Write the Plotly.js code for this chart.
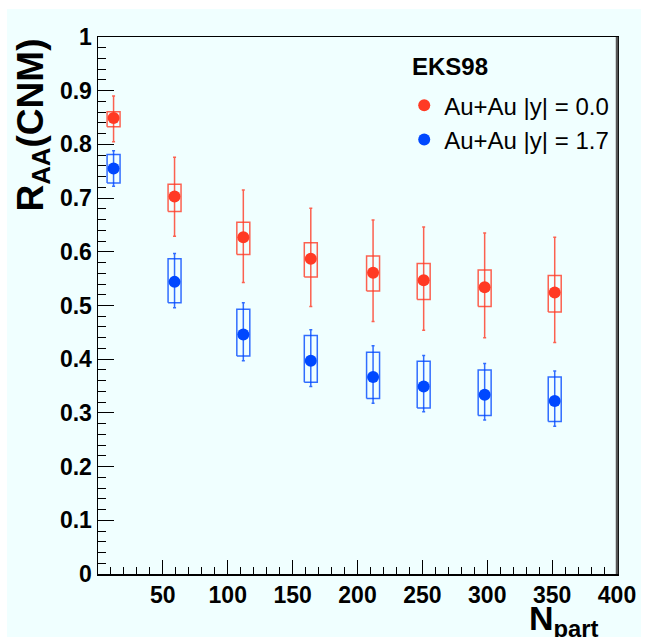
<!DOCTYPE html>
<html>
<head>
<meta charset="utf-8">
<script src="https://cdn.plot.ly/plotly-3.0.1.min.js"></script>
<style>
  html, body { margin: 0; padding: 0; background: #ffffff; }
  #chart { position: absolute; left: 7px; top: 9px; width: 634px; height: 628px; }
</style>
</head>
<body>
<div id="chart"></div>
<script>
// ---- data ----
var npart = [12, 59, 112, 164, 212, 251, 298, 352];

var legendTitle = "EKS98";
var seriesNames = ["Au+Au |y| = 0.0", "Au+Au |y| = 1.7"];

// |y| = 0.0
var raaMid      = [0.849, 0.703, 0.627, 0.587, 0.561, 0.547, 0.534, 0.524];
var raaMidErrUp = [0.041, 0.073, 0.088, 0.094, 0.098, 0.099, 0.101, 0.103];
var raaMidErrDn = [0.044, 0.074, 0.084, 0.089, 0.091, 0.093, 0.094, 0.093];
var raaMidSysUp = [0.012, 0.023, 0.028, 0.030, 0.031, 0.031, 0.032, 0.032];
var raaMidSysDn = [0.016, 0.028, 0.032, 0.034, 0.034, 0.036, 0.036, 0.036];

// |y| = 1.7
var raaFwd      = [0.755, 0.544, 0.446, 0.397, 0.367, 0.349, 0.334, 0.322];
var raaFwdErrUp = [0.033, 0.053, 0.059, 0.058, 0.058, 0.058, 0.058, 0.056];
var raaFwdErrDn = [0.033, 0.048, 0.049, 0.048, 0.049, 0.047, 0.047, 0.047];
var raaFwdSysUp = [0.026, 0.043, 0.047, 0.047, 0.046, 0.047, 0.046, 0.045];
var raaFwdSysDn = [0.027, 0.039, 0.040, 0.040, 0.040, 0.040, 0.039, 0.038];

var boxHalfWidth = 5;
var xTickVals = [0, 50, 100, 150, 200, 250, 300, 350, 400];
var xTickText = ["", "50", "100", "150", "200", "250", "300", "350", "400"];

// ---- styling ----
var red = "rgb(255,58,36)", redLine = "rgba(255,58,36,0.8)";
var blue = "rgb(0,72,255)", blueLine = "rgba(0,72,255,0.8)";
var FONT = "Liberation Sans, Arial, Helvetica, sans-serif";

function boxTrace(x, y, up, dn, color) {
  var bx = [], by = [];
  for (var i = 0; i < x.length; i++) {
    var lo = y[i] - dn[i], hi = y[i] + up[i];
    bx.push(x[i] - boxHalfWidth, x[i] + boxHalfWidth, x[i] + boxHalfWidth, x[i] - boxHalfWidth, x[i] - boxHalfWidth, null);
    by.push(lo, lo, hi, hi, lo, null);
  }
  return { x: bx, y: by, type: "scatter", mode: "lines", line: { color: color, width: 1.5 },
           showlegend: false, hoverinfo: "skip" };
}
function errTrace(x, y, up, dn, color) {
  return { x: x, y: y, type: "scatter", mode: "markers", marker: { size: 1, opacity: 0 },
           error_y: { type: "data", symmetric: false, array: up, arrayminus: dn,
                      color: color, thickness: 1.5, width: 1.5 },
           showlegend: false, hoverinfo: "skip" };
}
function ptTrace(x, y, color, name) {
  return { x: x, y: y, type: "scatter", mode: "markers", name: name,
           marker: { color: color, size: 12, symbol: "circle" } };
}

var data = [
  boxTrace(npart, raaMid, raaMidSysUp, raaMidSysDn, redLine),
  boxTrace(npart, raaFwd, raaFwdSysUp, raaFwdSysDn, blueLine),
  errTrace(npart, raaMid, raaMidErrUp, raaMidErrDn, redLine),
  errTrace(npart, raaFwd, raaFwdErrUp, raaFwdErrDn, blueLine),
  ptTrace(npart, raaMid, red, seriesNames[0]),
  ptTrace(npart, raaFwd, blue, seriesNames[1])
];

var layout = {
  width: 634, height: 628,
  margin: { l: 91, r: 24, t: 28, b: 63, pad: 0 },
  paper_bgcolor: "#f0ffff",
  plot_bgcolor: "#f0ffff",
  font: { family: FONT, color: "#000" },
  showlegend: true,
  legend: {
    x: 0.59, y: 0.914, xanchor: "left", yanchor: "top",
    bgcolor: "rgba(0,0,0,0)", borderwidth: 0,
    font: { family: FONT, size: 24, color: "#000" },
    itemwidth: 30
  },
  xaxis: {
    range: [0, 400], showgrid: false, zeroline: false,
    showline: true, linecolor: "#000", linewidth: 1.5, mirror: true,
    tickmode: "array", tickvals: xTickVals, ticktext: xTickText,
    ticks: "inside", ticklen: 14, tickwidth: 1, tickcolor: "#000",
    minor: { tickmode: "linear", tick0: 0, dtick: 10, ticks: "inside", ticklen: 7, tickwidth: 1, tickcolor: "#000" },
    tickfont: { family: FONT, size: 23, weight: "bold", color: "#000" }
  },
  yaxis: {
    range: [0, 1], showgrid: false, zeroline: false,
    showline: true, linecolor: "#000", linewidth: 1.5, mirror: true,
    tickmode: "linear", tick0: 0, dtick: 0.1,
    ticks: "inside", ticklen: 16, tickwidth: 1, tickcolor: "#000",
    minor: { tickmode: "linear", tick0: 0, dtick: 0.02, ticks: "inside", ticklen: 8, tickwidth: 1, tickcolor: "#000" },
    tickfont: { family: FONT, size: 23, weight: "bold", color: "#000" }
  },
  shapes: [
    { type: "line", xref: "paper", yref: "paper", x0: 1, x1: 1, y0: 0, y1: 1,
      line: { color: "#555555", width: 2.5 } }
  ],
  annotations: [
    { text: "<b>" + legendTitle + "</b>", xref: "paper", yref: "paper",
      x: 0.602, y: 0.945, xanchor: "left", yanchor: "middle", showarrow: false,
      font: { family: FONT, size: 24, color: "#000" } },
    { text: "<b>R<sub>AA</sub>(CNM)</b>", textangle: -90, xref: "paper", yref: "paper",
      x: -0.127, y: 1, xanchor: "center", yanchor: "top", showarrow: false,
      font: { family: FONT, size: 37, color: "#000" } },
    { text: "<b>N<sub>part</sub></b>", xref: "paper", yref: "paper",
      x: 0.97, y: 0, xanchor: "right", yanchor: "top", yshift: -23, showarrow: false,
      font: { family: FONT, size: 34, color: "#000" } }
  ]
};

Plotly.newPlot("chart", data, layout, { displayModeBar: false, staticPlot: true });
</script>
</body>
</html>
